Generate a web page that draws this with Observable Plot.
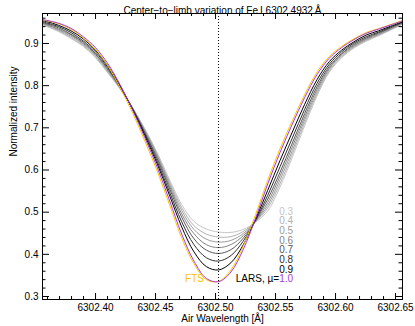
<!DOCTYPE html>
<html><head><meta charset="utf-8">
<script src="https://cdn.jsdelivr.net/npm/d3@7"></script>
<script src="https://cdn.jsdelivr.net/npm/@observablehq/plot@0.6"></script>
<style>body{margin:0;background:#fff}svg{display:block}</style>
</head><body><div id="chart"></div>
<script>
// Air wavelength sample points [Å]
const wavelength = [6302.3488, 6302.3590, 6302.3693, 6302.3795, 6302.3898, 6302.4000, 6302.4103, 6302.4205, 6302.4308, 6302.4410, 6302.4513, 6302.4615, 6302.4718, 6302.4820, 6302.4923, 6302.5025, 6302.5128, 6302.5230, 6302.5333, 6302.5435, 6302.5538, 6302.5640, 6302.5743, 6302.5845, 6302.5948, 6302.6050, 6302.6153, 6302.6255, 6302.6358, 6302.6460, 6302.6563];
// LARS profiles for mu = 0.3 ... 1.0 and the FTS atlas
const lars03 = [0.951,0.941,0.928,0.912,0.893,0.866,0.830,0.792,0.748,0.698,0.642,0.578,0.518,0.478,0.460,0.453,0.452,0.459,0.476,0.503,0.560,0.630,0.705,0.775,0.832,0.866,0.889,0.905,0.918,0.932,0.946];
const lars04 = [0.952,0.942,0.930,0.914,0.895,0.868,0.832,0.793,0.748,0.696,0.638,0.573,0.511,0.468,0.448,0.441,0.442,0.454,0.477,0.510,0.568,0.638,0.712,0.780,0.835,0.868,0.891,0.907,0.920,0.933,0.947];
const lars05 = [0.953,0.944,0.932,0.917,0.898,0.871,0.835,0.794,0.747,0.694,0.635,0.568,0.504,0.459,0.436,0.429,0.433,0.449,0.478,0.516,0.577,0.646,0.719,0.785,0.839,0.871,0.893,0.909,0.921,0.934,0.948];
const lars06 = [0.953,0.945,0.934,0.920,0.900,0.874,0.837,0.795,0.746,0.691,0.631,0.563,0.496,0.449,0.423,0.416,0.423,0.444,0.479,0.523,0.586,0.655,0.726,0.791,0.842,0.874,0.895,0.911,0.923,0.936,0.949];
const lars07 = [0.954,0.947,0.937,0.922,0.903,0.876,0.840,0.796,0.746,0.689,0.627,0.557,0.488,0.437,0.410,0.402,0.411,0.438,0.480,0.531,0.595,0.664,0.734,0.797,0.846,0.876,0.898,0.913,0.925,0.937,0.950];
const lars08 = [0.956,0.949,0.940,0.926,0.906,0.880,0.843,0.798,0.745,0.686,0.621,0.549,0.477,0.423,0.392,0.384,0.397,0.431,0.481,0.540,0.608,0.676,0.744,0.805,0.851,0.880,0.901,0.916,0.927,0.939,0.951];
const lars09 = [0.957,0.952,0.943,0.930,0.911,0.884,0.847,0.800,0.744,0.682,0.615,0.541,0.465,0.406,0.371,0.363,0.380,0.422,0.483,0.552,0.623,0.690,0.756,0.814,0.857,0.884,0.904,0.920,0.930,0.941,0.952];
const lars10 = [0.959,0.955,0.948,0.936,0.916,0.890,0.852,0.802,0.743,0.677,0.607,0.529,0.448,0.384,0.343,0.335,0.358,0.411,0.485,0.567,0.642,0.709,0.772,0.826,0.865,0.890,0.909,0.924,0.934,0.944,0.954];
const fts    = [0.958,0.954,0.947,0.934,0.913,0.886,0.847,0.795,0.736,0.669,0.598,0.519,0.439,0.378,0.340,0.336,0.363,0.419,0.494,0.576,0.651,0.717,0.779,0.832,0.869,0.893,0.911,0.926,0.935,0.945,0.955];

const muLabels = ["0.3","0.4","0.5","0.6","0.7","0.8","0.9"];
const muSeries = [lars03, lars04, lars05, lars06, lars07, lars08, lars09];
const muColors = ["#c6c6c6","#b2b2b2","#9c9c9c","#848484","#585858","#303030","#000000"];
const purple = "#a43be0", gold = "#ffc400";

const lineCore = 6302.5025; // dotted reference line
const xMajor = [6302.40, 6302.45, 6302.50, 6302.55, 6302.60, 6302.65];
const xMinor = [6302.36,6302.37,6302.38,6302.39,6302.41,6302.42,6302.43,6302.44,6302.46,6302.47,6302.48,6302.49,6302.51,6302.52,6302.53,6302.54,6302.56,6302.57,6302.58,6302.59,6302.61,6302.62,6302.63,6302.64];
const yMajor = [0.3, 0.4, 0.5, 0.6, 0.7, 0.8, 0.9];
const yMinor = [0.32,0.34,0.36,0.38,0.42,0.44,0.46,0.48,0.52,0.54,0.56,0.58,0.62,0.64,0.66,0.68,0.72,0.74,0.76,0.78,0.82,0.84,0.86,0.88,0.92,0.94,0.96];

const W = 415, H = 326, mL = 42, mR = 13, mT = 13, mB = 27;
const pw = W - mL - mR, ph = H - mT - mB;

const toRows = vals => vals.map((v, i) => ({w: wavelength[i], v}));
const lineOf = (vals, color) => Plot.line(toRows(vals), {x: "w", y: "v", stroke: color, strokeWidth: 1, curve: "catmull-rom", clip: true});

const labelX = 6302.5646;
const ftsX = 6302.4825;
const rowH = 9.65;

const marks = [
  ...muSeries.map((s, i) => lineOf(s, muColors[i])),
  lineOf(fts, gold),
  lineOf(lars10, purple),
  Plot.ruleX([lineCore], {stroke: "#000", strokeWidth: 1, strokeDasharray: "1,2"}),
  Plot.frame({stroke: "#000"}),
  // inward ticks on all four sides
  Plot.tickX(xMajor, {x: d => d, insetTop: ph - 6}),
  Plot.tickX(xMinor, {x: d => d, insetTop: ph - 3}),
  Plot.tickX(xMajor, {x: d => d, insetBottom: ph - 6}),
  Plot.tickX(xMinor, {x: d => d, insetBottom: ph - 3}),
  Plot.tickY(yMajor, {y: d => d, insetRight: pw - 7}),
  Plot.tickY(yMinor, {y: d => d, insetRight: pw - 3.5}),
  Plot.tickY(yMajor, {y: d => d, insetLeft: pw - 7}),
  Plot.tickY(yMinor, {y: d => d, insetLeft: pw - 3.5}),
  Plot.axisX(xMajor, {tickSize: 0, tickPadding: 4, tickFormat: d => d.toFixed(2), label: null}),
  Plot.axisY(yMajor, {tickSize: 0, tickPadding: 4, tickFormat: d => d.toFixed(1), label: null}),
  Plot.text(["Center\u2212to\u2212limb variation of Fe\u2009I 6302.4932\u2009Å"], {frameAnchor: "top", dy: -7, fontSize: 10}),
  Plot.text(["Air Wavelength [Å]"], {frameAnchor: "bottom", dy: 22.5, fontSize: 10}),
  Plot.text(["Normalized intensity"], {frameAnchor: "left", dx: -29, rotate: -90, fontSize: 10}),
  ...muLabels.map((t, i) => Plot.text([t], {x: labelX, frameAnchor: "bottom", dy: -(17.3 + (7 - i) * rowH), textAnchor: "end", fill: muColors[i], fontSize: 10})),
  Plot.text(["LARS, \u00b5="], {x: labelX, frameAnchor: "bottom", dy: -17.3, dx: -14, textAnchor: "end", fill: "#000", fontSize: 10}),
  Plot.text(["1.0"], {x: labelX, frameAnchor: "bottom", dy: -17.3, textAnchor: "end", fill: purple, fontSize: 10}),
  Plot.text(["FTS"], {x: ftsX, frameAnchor: "bottom", dy: -17.3, textAnchor: "middle", fill: gold, fontSize: 10})
];

const chart = Plot.plot({
  width: W, height: H,
  marginLeft: mL, marginRight: mR, marginTop: mT, marginBottom: mB,
  style: {fontFamily: "'Liberation Sans', Arial, Helvetica, sans-serif", fontSize: "10px", background: "#fff", color: "#000"},
  x: {domain: [6302.3558, 6302.6558]},
  y: {domain: [0.2929, 0.9711]},
  marks
});
document.getElementById("chart").appendChild(chart);
</script>
</body></html>
